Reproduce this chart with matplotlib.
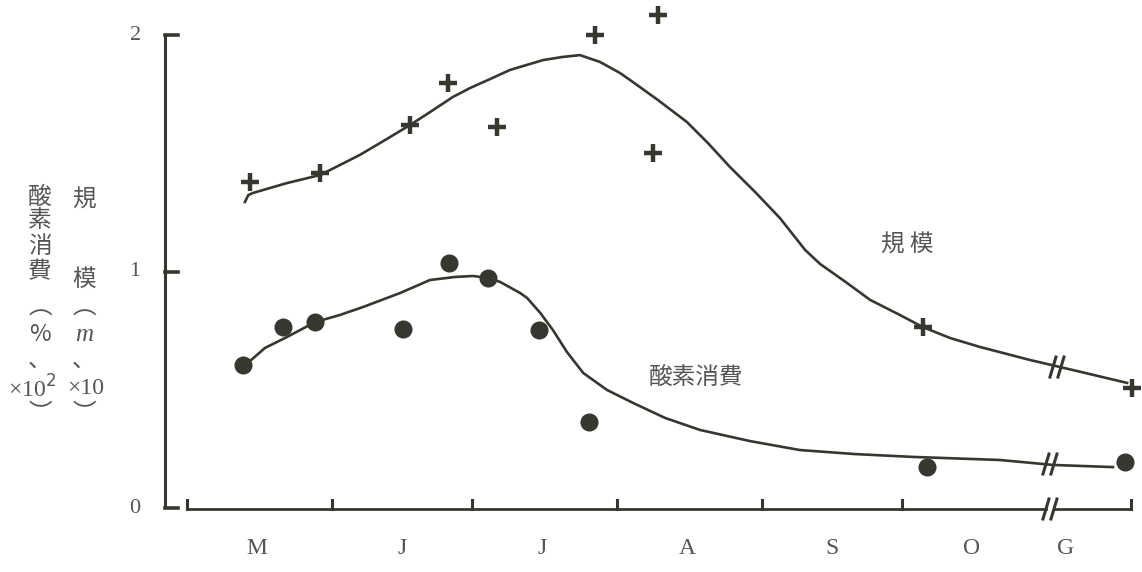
import numpy as np
import matplotlib
matplotlib.use("Agg")
import matplotlib.pyplot as plt

plt.rcParams['font.family'] = ['Noto Sans CJK JP', 'DejaVu Sans']

# x in days counted from 1 May, y in plotted units (0-2)
months = ["M", "J", "J", "A", "S", "O", "G"]
month_edges = [0, 31, 61, 92, 123, 153]
month_label_x = [15, 46, 76, 107, 138, 168, 188]
axis_end = 202

# 規模 (+)
scale_x = [13.5, 28.5, 47.7, 55.9, 66.4, 87.3, 100.8, 99.7, 157.5, 202.3]
scale_y = [1.378, 1.417, 1.619, 1.797, 1.611, 2.000, 2.085, 1.501, 0.765, 0.507]

# 酸素消費 (dots)
oxy_x = [12.0, 20.5, 27.4, 46.2, 56.1, 64.4, 75.3, 86.0, 158.4, 200.8]
oxy_y = [0.605, 0.765, 0.786, 0.757, 1.036, 0.973, 0.753, 0.364, 0.173, 0.195]

# hand-fitted trend curves
scale_curve_x = [12.4, 13.1, 14.1, 21.4, 28.5, 37.0, 42.4, 47.7, 52.4, 56.9,
                 60.6, 64.9, 69.1, 76.2, 80.3, 84.1, 88.4, 92.7, 94.8, 100.8,
                 107.0, 111.5, 116.2, 121.6, 126.9, 132.3, 135.5, 141.3, 146.2,
                 152.6, 157.5, 163.3, 169.7, 180.4, 186.9, 201.2]
scale_curve_y = [1.294, 1.323, 1.332, 1.374, 1.408, 1.493, 1.556, 1.619, 1.679,
                 1.738, 1.776, 1.814, 1.852, 1.894, 1.907, 1.915, 1.886, 1.839,
                 1.810, 1.725, 1.632, 1.543, 1.442, 1.336, 1.226, 1.091, 1.032,
                 0.951, 0.880, 0.816, 0.765, 0.719, 0.681, 0.626, 0.596, 0.529]

oxy_curve_x = [11.3, 16.7, 21.4, 27.4, 32.7, 37.7, 45.6, 52.0, 57.4, 61.2,
               64.4, 67.0, 71.3, 72.8, 75.6, 78.3, 81.3, 84.8, 89.9, 95.5,
               102.3, 109.8, 120.5, 131.2, 143.0, 155.4, 174.0, 185.4, 198.2]
oxy_curve_y = [0.584, 0.677, 0.723, 0.786, 0.816, 0.850, 0.909, 0.964, 0.977,
               0.981, 0.973, 0.956, 0.909, 0.888, 0.825, 0.753, 0.660, 0.571,
               0.499, 0.444, 0.381, 0.330, 0.283, 0.245, 0.228, 0.216, 0.203,
               0.182, 0.173]

ink = "#38372f"
txt = "#555555"
px_x = 1 / 4.672   # one pixel in days
px_y = 1 / 236.5   # one pixel in y units

fig = plt.figure(figsize=(11.42, 5.72), dpi=100)
ax = fig.add_axes([0, 0, 1, 1])
ax.set_xlim(-40.03, 204.4)
ax.set_ylim(-0.2706, 2.148)
ax.axis("off")

# y axis with ticks pointing right
yax = -22 * px_x
ax.plot([yax, yax], [0, 2.0], color=ink, lw=2.2, solid_capstyle="butt")
for v in [0, 1, 2]:
    ax.plot([yax, yax + 13 * px_x], [v, v], color=ink, lw=2.6)
    ax.text(-11.1, v, str(v), ha="center", va="center", fontsize=16,
            family="Liberation Serif", color=txt)

# x axis, broken after October
xb = 184.7
y0 = -1 * px_y
ax.plot([0, xb - 4 * px_x], [y0, y0], color=ink, lw=2.0)
ax.plot([xb + 4 * px_x, axis_end], [y0, y0], color=ink, lw=2.0)
for e in month_edges + [axis_end]:
    ax.plot([e, e], [y0, y0 + 9 * px_y], color=ink, lw=2.2)
for lab, x in zip(months, month_label_x):
    ax.text(x, -0.17, lab, ha="center", va="center", fontsize=17,
            family="Liberation Serif", color=txt)


def break_mark(x, y):
    for off in (-4, 4):
        ax.plot([x + (off - 3) * px_x, x + (off + 3) * px_x],
                [y - 10 * px_y, y + 10 * px_y], color=ink, lw=2.2)


break_mark(xb, y0)

# curves and points
ax.plot(scale_curve_x, scale_curve_y, color=ink, lw=1.9, solid_joinstyle="round")
ax.plot(oxy_curve_x, oxy_curve_y, color=ink, lw=1.9, solid_joinstyle="round")
break_mark(186.2, 0.596)
break_mark(184.7, 0.186)
ax.plot(scale_x, scale_y, ls="none", marker="+", ms=13, mew=3.2, color=ink)
ax.plot(oxy_x, oxy_y, ls="none", marker="o", ms=12, color=ink, mec=ink)

ax.text(154.1, 1.112, "規 模", ha="center", va="center", fontsize=17, color=txt)
ax.text(108.9, 0.554, "酸素消費", ha="center", va="center", fontsize=17, color=txt)

# vertical axis titles
fam = ['Noto Sans CJK JP', 'DejaVu Sans']
c1 = (40 - 187) * px_x
c2 = (84 - 187) * px_x
col1 = [("酸", 1.315), ("素", 1.214), ("消", 1.104), ("費", 0.998),
        ("︵", 0.846), ("%", 0.735), ("、", 0.625), ("︶", 0.400)]
col2 = [("規", 1.302), ("模", 0.968), ("︵", 0.846), ("、", 0.625), ("︶", 0.400)]
for s, v in col1:
    ax.text(c1, v, s, ha="center", va="center", fontsize=17, color=txt, family=fam)
for s, v in col2:
    ax.text(c2, v, s, ha="center", va="center", fontsize=17, color=txt, family=fam)
ax.text(c2, 0.730, "m", ha="center", va="center", fontsize=18, color=txt,
        family="Liberation Serif", style="italic")
ax.text((32 - 187) * px_x, 0.505, "×10$^2$", ha="center", va="center",
        fontsize=17, color=txt, family="Liberation Serif")
ax.text((86 - 187) * px_x, 0.505, "×10", ha="center", va="center",
        fontsize=17, color=txt, family="Liberation Serif")

fig.savefig("out.png", dpi=100)
